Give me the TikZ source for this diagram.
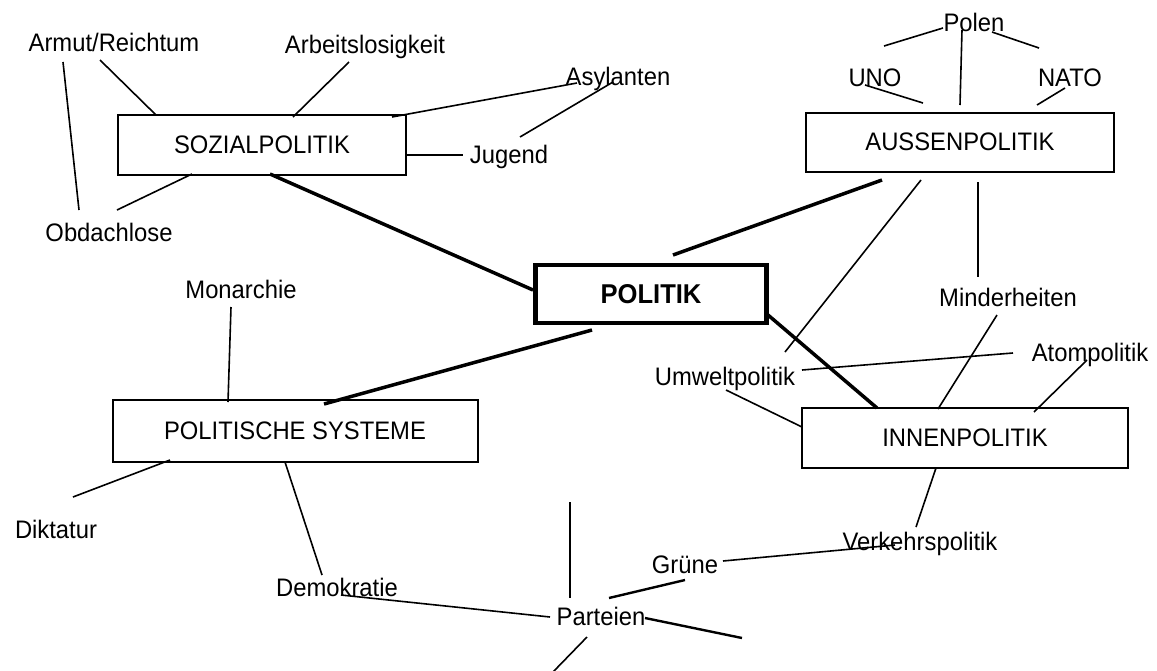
\documentclass[tikz,border=0pt]{standalone}
\usepackage{fontspec}
\setmainfont{Liberation Sans}[FakeStretch=0.94]
\usetikzlibrary{calc}
\begin{document}
\begin{tikzpicture}[x=0.5pt,y=-0.5pt,
  lbl/.style={inner sep=0pt, anchor=base, font=\fontsize{12.66}{15}\selectfont},
  topic/.style={draw, line width=1pt, inner sep=0pt, font=\fontsize{12.66}{15}\selectfont},
  core/.style={draw, line width=2.25pt, inner sep=0pt, font=\bfseries\fontsize{13.6}{16}\selectfont},
  thin/.style={line width=0.8pt},
  heavy/.style={line width=1.75pt},
  medium/.style={line width=1.2pt}]
\useasboundingbox (0,0) rectangle (1157,670);
% boxes
\node[topic, minimum width=144pt, minimum height=30pt] (soz) at (262,145) {SOZIALPOLITIK};
\node[topic, minimum width=154pt, minimum height=29.5pt] (aussen) at (960,142) {AUSSENPOLITIK};
\node[core, minimum width=115.5pt, minimum height=29pt] (politik) at (651,294) {POLITIK};
\node[topic, minimum width=182.5pt, minimum height=31pt] (polsys) at (295,431) {POLITISCHE SYSTEME};
\node[topic, minimum width=163pt, minimum height=30pt] (innen) at (965,438) {INNENPOLITIK};
% labels
\node[lbl] (armut) at (114,51) {Armut/Reichtum};
\node[lbl] (arbeit) at (365,53) {Arbeitslosigkeit};
\node[lbl] (asyl) at (618,85) {Asylanten};
\node[lbl] (jugend) at (509,163) {Jugend};
\node[lbl] (obdach) at (109,241) {Obdachlose};
\node[lbl] (polen) at (974,31) {Polen};
\node[lbl] (uno) at (875,86) {UNO};
\node[lbl] (nato) at (1070,86) {NATO};
\node[lbl] (monarchie) at (241,298) {Monarchie};
\node[lbl] (minder) at (1008,306) {Minderheiten};
\node[lbl] (atom) at (1090,361) {Atompolitik};
\node[lbl] (umwelt) at (725,385) {Umweltpolitik};
\node[lbl] (diktatur) at (56,538) {Diktatur};
\node[lbl] (verkehr) at (920,550) {Verkehrspolitik};
\node[lbl] (gruene) at (685,573) {Grüne};
\node[lbl] (demo) at (337,596) {Demokratie};
\node[lbl] (parteien) at (601,625) {Parteien};
% free ends
\coordinate (pup) at (570,502);
\coordinate (pright) at (742,638);
\coordinate (pdown) at (553,672);
% connectors
\draw[thin] ($(armut.base)+(-51,11)$) -- ($(obdach.base)+(-30,-31)$);
\draw[thin] ($(armut.base)+(-14,9)$) -- ($(soz)+(-106,-30)$);
\draw[thin] ($(arbeit.base)+(-16,9)$) -- ($(soz)+(31,-28)$);
\draw[thin] ($(asyl.base)+(-41,-2)$) -- ($(soz)+(130,-28)$);
\draw[thin] ($(asyl.base)+(-5,-3)$) -- ($(jugend.base)+(11,-26)$);
\draw[thin] ($(soz)+(144,10)$) -- ($(jugend.base)+(-46,-8)$);
\draw[thin] ($(soz)+(-70,29)$) -- ($(obdach.base)+(8,-31)$);
\draw[heavy] ($(soz)+(8,29)$) -- ($(politik)+(-118,-4)$);
\draw[thin] ($(polen.base)+(-31,-3)$) -- ($(uno.base)+(9,-40)$);
\draw[thin] ($(polen.base)+(-12,-1)$) -- ($(aussen)+(0,-37)$);
\draw[thin] ($(polen.base)+(18,1)$) -- ($(nato.base)+(-31,-38)$);
\draw[thin] ($(uno.base)+(-10,-1)$) -- ($(aussen)+(-37,-39)$);
\draw[thin] ($(nato.base)+(-5,2)$) -- ($(aussen)+(77,-37)$);
\draw[heavy] ($(aussen)+(-78,38)$) -- ($(politik)+(22,-39)$);
\draw[thin] ($(aussen)+(-39,38)$) -- ($(umwelt.base)+(60,-33)$);
\draw[thin] ($(aussen)+(18,40)$) -- ($(minder.base)+(-30,-29)$);
\draw[heavy] ($(politik)+(117,21)$) -- ($(innen)+(-88,-30)$);
\draw[thin] ($(minder.base)+(-11,9)$) -- ($(innen)+(-27,-29)$);
\draw[thin] ($(atom.base)+(-77,-8)$) -- ($(umwelt.base)+(77,-15)$);
\draw[thin] ($(atom.base)+(-3,-1)$) -- ($(innen)+(69,-26)$);
\draw[thin] ($(umwelt.base)+(1,5)$) -- ($(innen)+(-163,-11)$);
\draw[thin] ($(innen)+(-29,30)$) -- ($(verkehr.base)+(-4,-23)$);
\draw[heavy] ($(politik)+(-59,36)$) -- ($(polsys)+(29,-27)$);
\draw[thin] ($(monarchie.base)+(-10,9)$) -- ($(polsys)+(-67,-29)$);
\draw[thin] ($(polsys)+(-125,29)$) -- ($(diktatur.base)+(17,-41)$);
\draw[thin] ($(polsys)+(-10,31)$) -- ($(demo.base)+(-15,-21)$);
\draw[thin] ($(demo.base)+(4,-1)$) -- ($(parteien.base)+(-51,-8)$);
\draw[thin] (pup) -- ($(parteien.base)+(-31,-27)$);
\draw[medium] ($(gruene.base)+(0,7)$) -- ($(parteien.base)+(8,-27)$);
\draw[thin] ($(gruene.base)+(38,-12)$) -- ($(verkehr.base)+(-25,-5)$);
\draw[medium] ($(parteien.base)+(44,-7)$) -- (pright);
\draw[thin] ($(parteien.base)+(-14,12)$) -- (pdown);
\end{tikzpicture}
\end{document}
